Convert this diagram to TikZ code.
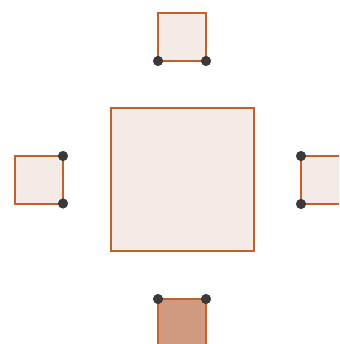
\documentclass[tikz,border=0pt]{standalone}
\begin{document}
\begin{tikzpicture}[x=1pt,y=-1pt,
  sq/.style={draw=sqline,fill=sqfill,line width=2pt},
  sqdark/.style={draw=sqline,fill=sqdarkfill,line width=2pt},
  pt/.style={fill=ptfill,draw=ptfill!80!black,line width=0.4pt}]
\definecolor{sqline}{HTML}{C0622F}
\definecolor{sqfill}{HTML}{F4EAE6}
\definecolor{sqdarkfill}{HTML}{CF9A80}
\definecolor{ptfill}{HTML}{3A3A3A}
\useasboundingbox (0,0) rectangle (339,344);
\clip (0,0) rectangle (339,344);
% big square
\draw[sq] (110.5,108.5) rectangle (253.5,250.5);
% small squares
\draw[sq] (158,13.5) rectangle (206,61);
\draw[sq] (15,156) rectangle (63,203.5);
\draw[sq] (301,156) rectangle (349,204);
\draw[sqdark] (158,299) rectangle (206,347);
% points
\coordinate (t1) at (158,61);
\coordinate (t2) at (206,61);
\coordinate (l1) at (63,156);
\coordinate (l2) at (63,203.5);
\coordinate (r1) at (301,156);
\coordinate (r2) at (301,204);
\coordinate (b1) at (158,299);
\coordinate (b2) at (206,299);
\foreach \p in {t1,t2,l1,l2,r1,r2,b1,b2}
  \filldraw[pt] (\p) circle (4.8);
\end{tikzpicture}
\end{document}
